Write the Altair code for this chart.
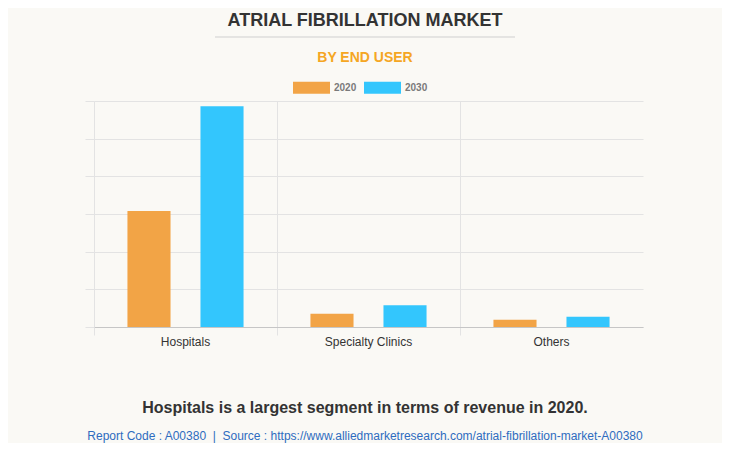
import altair as alt
import pandas as pd

categories = ["Hospitals", "Specialty Clinics", "Others"]
years = ["2020", "2030"]
values_2020 = [3.08, 0.35, 0.19]
values_2030 = [5.86, 0.58, 0.27]
colors = ["#f2a446", "#33c6fd"]

title_text = "ATRIAL FIBRILLATION MARKET"
subtitle_text = "BY END USER"
note_text = "Hospitals is a largest segment in terms of revenue in 2020."
footer_text = ("Report Code : A00380\u00a0\u00a0|\u00a0\u00a0Source : "
               "https://www.alliedmarketresearch.com/atrial-fibrillation-market-A00380")

rows = []
for c, v1, v2 in zip(categories, values_2020, values_2030):
    rows.append({"segment": c, "year": "2020", "value": v1})
    rows.append({"segment": c, "year": "2030", "value": v2})
df = pd.DataFrame(rows)

FONT = "Liberation Sans"
GRID = "#e3e3e3"

bars = alt.Chart(df).mark_bar().encode(
    x=alt.X("segment:N", sort=categories,
            scale=alt.Scale(paddingInner=0, paddingOuter=0),
            axis=alt.Axis(title=None, bandPosition=0, grid=True, gridColor=GRID,
                          tickColor=GRID, tickSize=8, domainColor="#c6c6c6",
                          labelColor="#333333", labelFont=FONT, labelFontSize=12,
                          labelPadding=1, labelAngle=0)),
    xOffset=alt.XOffset("year:N", sort=years,
                        scale=alt.Scale(paddingInner=0.41, paddingOuter=0.458)),
    y=alt.Y("value:Q", scale=alt.Scale(domain=[0, 6], nice=False),
            axis=alt.Axis(title=None, labels=False, domain=False,
                          values=[0, 1, 2, 3, 4, 5, 6], gridColor=GRID,
                          tickColor=GRID, tickSize=9)),
    color=alt.Color("year:N", scale=alt.Scale(domain=years, range=colors),
                    legend=alt.Legend(title=None, orient="none", direction="horizontal",
                                      legendX=199, legendY=-32, padding=0,
                                      symbolType="M-1,-0.324L1,-0.324L1,0.324L-1,0.324Z",
                                      symbolSize=1369, symbolStrokeWidth=0,
                                      symbolOpacity=1,
                                      labelFont=FONT, labelFontSize=10,
                                      labelFontWeight="bold", labelColor="#7a7a7a",
                                      labelOffset=4, columnPadding=7)),
)

one = pd.DataFrame({"a": [0]})

title = alt.Chart(one).mark_text(font=FONT, fontSize=18, fontWeight="bold",
                                 color="#333333", baseline="middle", align="center").encode(
    x=alt.value(271), y=alt.value(-80), text=alt.value(title_text))
rule = alt.Chart(one).mark_rule(color="#cfcfcf", strokeWidth=1).encode(
    x=alt.value(121), x2=alt.value(421), y=alt.value(-64))
subtitle = alt.Chart(one).mark_text(font=FONT, fontSize=14, fontWeight="bold",
                                    color="#f5a623", baseline="middle", align="center").encode(
    x=alt.value(271), y=alt.value(-43), text=alt.value(subtitle_text))
note = alt.Chart(one).mark_text(font=FONT, fontSize=16, fontWeight="bold",
                                color="#333333", baseline="middle", align="center").encode(
    x=alt.value(271), y=alt.value(307), text=alt.value(note_text))
footer = alt.Chart(one).mark_text(font=FONT, fontSize=12,
                                  color="#2e6cbf", baseline="middle", align="center").encode(
    x=alt.value(271), y=alt.value(335), text=alt.value(footer_text))

chart = alt.layer(bars, title, rule, subtitle, note, footer).properties(
    width=549, height=226,
    autosize=alt.AutoSizeParams(type="none"),
    padding={"left": 86, "top": 93, "right": 79, "bottom": 116},
    background="#faf9f5",
).configure_view(stroke=None)

chart.save("out.html", embed_options={"renderer": "svg", "actions": False})
